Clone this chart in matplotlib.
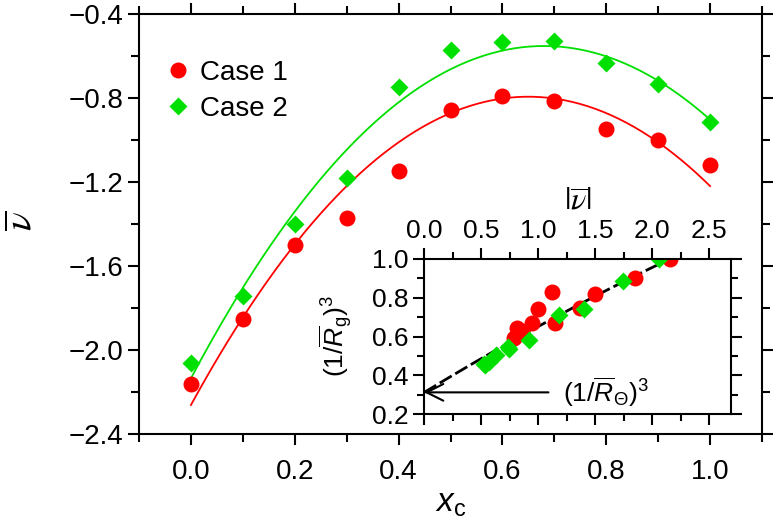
import numpy as np
import matplotlib
matplotlib.use('Agg')
import matplotlib.pyplot as plt
from matplotlib.ticker import MultipleLocator

plt.rcParams['font.family'] = ['Liberation Sans', 'DejaVu Sans']
plt.rcParams['mathtext.fontset'] = 'custom'
plt.rcParams['mathtext.rm'] = 'Liberation Sans'
plt.rcParams['mathtext.it'] = 'Liberation Sans:italic'
plt.rcParams['axes.linewidth'] = 1.5

# Data
x_c = [0.0, 0.1, 0.2, 0.3, 0.4, 0.5, 0.6, 0.7, 0.8, 0.9, 1.0]
nu_case1 = [-2.16, -1.85, -1.50, -1.37, -1.15, -0.857, -0.79, -0.813, -0.949, -1.0, -1.119]
nu_case2 = [-2.06, -1.741, -1.401, -1.182, -0.746, -0.571, -0.532, -0.527, -0.632, -0.735, -0.916]
rg_case1 = [1.0, 0.90, 0.818, 0.749, 0.668, 0.63, 0.594, 0.646, 0.668, 0.745, 0.828]
rg_case2 = [1.0, 0.886, 0.745, 0.711, 0.535, 0.47, 0.455, 0.46, 0.505, 0.548, 0.582]
rtheta = 0.313
# fitted curves as drawn in the picture (polynomial coeffs, highest power first)
fit_case1 = [-3.475, 4.5175, -2.262]
fit_case2 = [-3.423, 4.655, -2.135]
rg_fit = [-0.0177, 0.357, rtheta]

red = '#ff0000'
green = '#00e000'

fig = plt.figure(figsize=(7.76, 5.26), dpi=100)
ax = fig.add_axes([139/776, 1-434/526, (762-139)/776, (434-14)/526])

xf = np.linspace(0, 1, 200)
ax.plot(xf, np.polyval(fit_case1, xf), color=red, lw=1.3)
ax.plot(xf, np.polyval(fit_case2, xf), color=green, lw=1.3)
ax.plot(x_c, nu_case1, 'o', color=red, ms=11.5, mec='none', label='Case 1')
ax.plot(x_c, nu_case2, 'D', color=green, ms=9.5, mec='none', label='Case 2')

ax.set_xlim(-0.1, 1.1)
ax.set_ylim(-2.4, -0.4)
ax.xaxis.set_major_locator(MultipleLocator(0.2))
ax.xaxis.set_minor_locator(MultipleLocator(0.1))
ax.yaxis.set_major_locator(MultipleLocator(0.4))
ax.yaxis.set_minor_locator(MultipleLocator(0.2))
ax.xaxis.set_major_formatter(plt.FormatStrFormatter('%.1f'))
ax.yaxis.set_major_formatter(plt.FuncFormatter(lambda v, p: ('%.1f' % v).replace('-', '\u2212')))
ax.tick_params(which='both', direction='out', top=True, right=True, width=1.5, labelsize=20)
ax.tick_params(which='major', length=8)
ax.tick_params(which='minor', length=6)
ax.tick_params(axis='x', pad=10)
ax.set_xlabel(r'$x_\mathrm{c}$', fontsize=24, labelpad=2)
fig.text(0.028, 1-221/526, r'$\overline{\nu}$', rotation=90, math_fontfamily='stix',
         fontsize=28, ha='center', va='center')

ax.legend(loc='upper left', bbox_to_anchor=(0.0, 0.95), frameon=False, fontsize=20,
          handlelength=1.0, handletextpad=0.3, labelspacing=0.35, numpoints=1)

# inset
ins = fig.add_axes([424.3/776, 1-414.3/526, (730.7-424.3)/776, (414.3-259)/526])
xg = np.linspace(0, 2.16, 200)
ins.plot(xg, np.polyval(rg_fit, xg), color='k', lw=2, ls=(0, (5, 1.5)))
ins.plot(np.abs(nu_case1), rg_case1, 'o', color=red, ms=11.5, mec='none')
ins.plot(np.abs(nu_case2), rg_case2, 'D', color=green, ms=9.5, mec='none')
ins.annotate('', xy=(0.0, rtheta), xytext=(1.09, rtheta),
             arrowprops=dict(arrowstyle='->', color='k', lw=1.5,
                             mutation_scale=30, shrinkA=0, shrinkB=0))
ins.text(1.22, rtheta, r'$(1/\overline{R}_\Theta)^3$', fontsize=19, va='center', ha='left')

ins.set_xlim(0, 2.69)
ins.set_ylim(0.2, 1.0)
ins.xaxis.set_major_locator(MultipleLocator(0.5))
ins.xaxis.set_minor_locator(MultipleLocator(0.25))
ins.yaxis.set_major_locator(MultipleLocator(0.2))
ins.yaxis.set_minor_locator(MultipleLocator(0.1))
ins.xaxis.set_major_formatter(plt.FormatStrFormatter('%.1f'))
ins.yaxis.set_major_formatter(plt.FormatStrFormatter('%.1f'))
ins.tick_params(which='both', direction='out', top=True, right=True, bottom=True,
                labeltop=True, labelbottom=False, width=1.5, labelsize=19)
ins.tick_params(which='major', length=8)
ins.tick_params(which='minor', length=5)
ins.xaxis.set_label_position('top')
ins.set_xlabel(r'$|\overline{\nu}|$', fontsize=23, math_fontfamily='stix', labelpad=6)
ins.set_ylabel(r'$(1/\overline{R}_\mathrm{g})^3$', fontsize=19, labelpad=12)

fig.savefig('out.png', dpi=100)
